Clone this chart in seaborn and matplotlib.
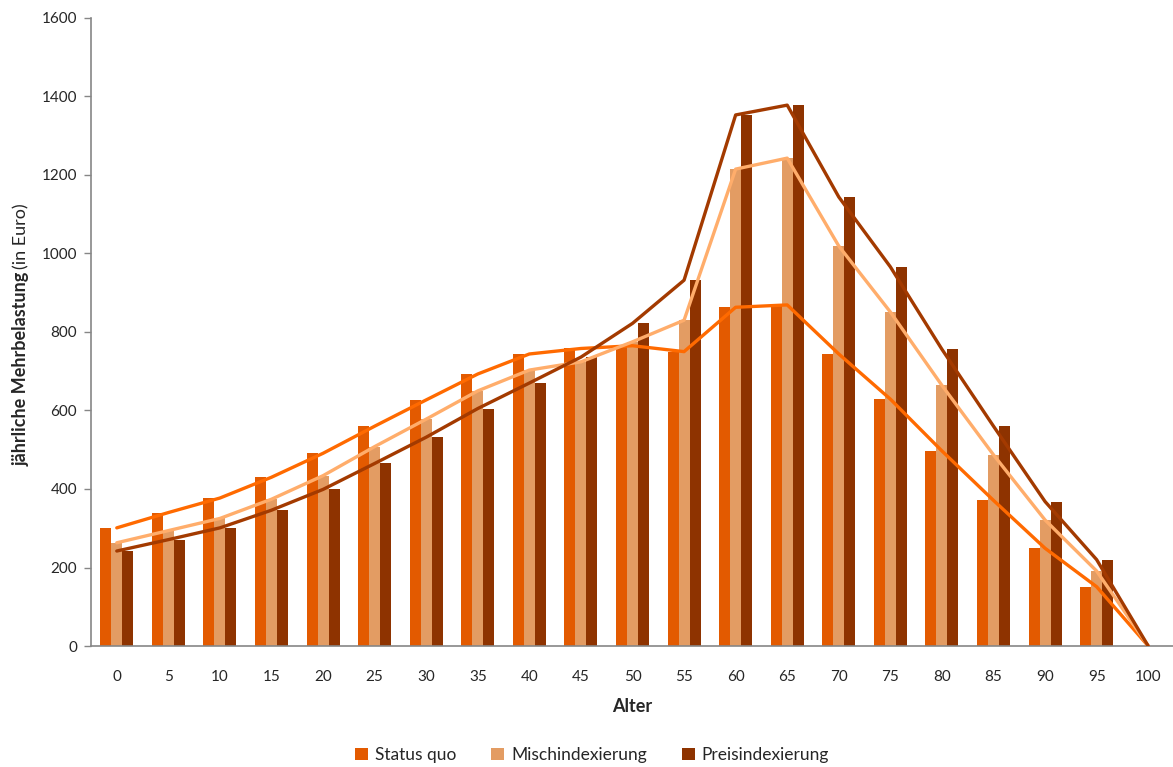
import numpy as np
import pandas as pd
import matplotlib
matplotlib.use("Agg")
import matplotlib.pyplot as plt
import seaborn as sns
from matplotlib.patches import Patch
from matplotlib.ticker import FixedLocator, NullFormatter

# ---------- data ----------
ages = [0, 5, 10, 15, 20, 25, 30, 35, 40, 45, 50, 55, 60, 65, 70, 75, 80, 85, 90, 95, 100]
status_quo = [301, 340, 377, 430, 491, 560, 627, 693, 744, 758, 765, 750, 863, 869, 744, 629, 497, 371, 249, 151, 0]
misch = [263, 294, 325, 374, 434, 508, 578, 650, 703, 724, 775, 830, 1215, 1243, 1019, 851, 664, 487, 321, 191, 0]
preis = [242, 271, 301, 346, 399, 465, 532, 605, 670, 736, 822, 932, 1353, 1378, 1144, 966, 756, 560, 368, 220, 0]
series_names = ["Status quo", "Mischindexierung", "Preisindexierung"]
y_ticks = [0, 200, 400, 600, 800, 1000, 1200, 1400, 1600]

bar_colors = ["#E35A00", "#E39C63", "#8E3300"]
line_colors = ["#FF6A00", "#FFAD6B", "#A33A00"]

df = pd.DataFrame({
    "Alter": ages * 3,
    "Wert": status_quo + misch + preis,
    "Szenario": np.repeat(series_names, len(ages)),
})

# ---------- plot ----------
sns.set_style("white")
plt.rcParams["font.family"] = ["Lato", "DejaVu Sans"]

W, H = 1173, 767
fig = plt.figure(figsize=(W / 100, H / 100), dpi=100)
ax = fig.add_axes([91 / W, 121 / H, 1083 / W, 628 / H])

sns.barplot(data=df, x="Alter", y="Wert", hue="Szenario", order=ages,
            hue_order=series_names, palette=bar_colors, width=0.64,
            linewidth=0, saturation=1, errorbar=None, legend=False, ax=ax)

pos = np.arange(len(ages))
for vals, col in zip([status_quo, misch, preis], line_colors):
    sns.lineplot(x=pos, y=vals, color=col, linewidth=2.4, legend=False,
                 ax=ax, zorder=5)

ax.set_xlim(-0.5, len(ages) - 0.5)
ax.set_ylim(0, 1600)
ax.set_yticks(y_ticks)
ax.set_yticklabels([str(t) for t in y_ticks], fontsize=11)
ax.set_xticks(pos)
ax.set_xticklabels([str(a) for a in ages], fontsize=11)
ax.xaxis.set_minor_locator(FixedLocator(np.arange(-0.5, len(ages), 1.0)))
ax.xaxis.set_minor_formatter(NullFormatter())
ax.tick_params(axis="x", which="major", length=0, pad=17)
ax.tick_params(axis="x", which="minor", length=5, color="#868686", width=1)
ax.tick_params(axis="y", length=5, color="#868686", width=1, pad=5, left=True)

for s in ["top", "right"]:
    ax.spines[s].set_visible(False)
for s in ["left", "bottom"]:
    ax.spines[s].set_color("#868686")
    ax.spines[s].set_linewidth(1.2)

ax.set_xlabel("Alter", fontsize=13, fontweight="bold", labelpad=10)
ax.set_ylabel("")

# y label: bold part + normal part, centred as a whole
renderer = fig.canvas.get_renderer()
t_bold = fig.text(21 / W, 0.5, "jährliche Mehrbelastung", rotation=90,
                  fontsize=13, fontweight="bold", ha="center", va="bottom")
t_norm = fig.text(21 / W, 0.5, "(in Euro)", rotation=90,
                  fontsize=13, ha="center", va="bottom")
hb = t_bold.get_window_extent(renderer).height / H
hn = t_norm.get_window_extent(renderer).height / H
y0 = (1 - 335 / H) - (hb + hn + 3 / H) / 2
t_bold.set_y(y0)
t_norm.set_y(y0 + hb + 3 / H)

handles = [Patch(facecolor=c, edgecolor="none") for c in bar_colors]
fig.legend(handles, series_names, loc="center", bbox_to_anchor=(592 / W, 1 - 755 / H),
           ncol=3, frameon=False, fontsize=12.5, handlelength=0.75, handleheight=0.75,
           handletextpad=0.4, columnspacing=2.0)

fig.savefig("out.png", dpi=100)
